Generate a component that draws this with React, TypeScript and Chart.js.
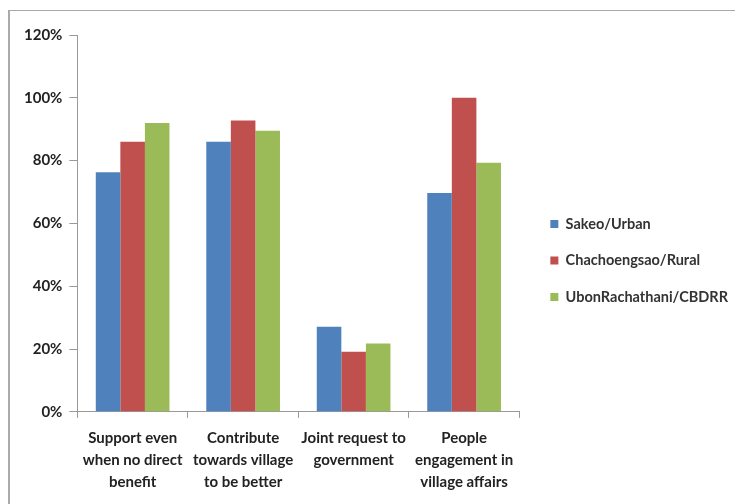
import React, { useEffect, useRef } from "react";
import { Chart, registerables } from "chart.js";

Chart.register(...registerables);

const categories: string[][] = [
  ["Support even", "when no direct", "benefit"],
  ["Contribute", "towards village", "to be better"],
  ["Joint request to", "government"],
  ["People", "engagement in", "village affairs"],
];
const seriesNames = ["Sakeo/Urban", "Chachoengsao/Rural", "UbonRachathani/CBDRR"];
const sakeoUrban = [76.3, 86, 27.1, 69.7];
const chachoengsaoRural = [86, 92.8, 19.1, 100];
const ubonCbdrr = [92, 89.5, 21.8, 79.3];
const yTicks = [0, 20, 40, 60, 80, 100, 120];
const colors = ["#4F81BD", "#C0504D", "#9BBB59"];

const legendShift = {
  id: "legendShift",
  afterLayout(chart: any) {
    const lg = chart.legend;
    if (lg) {
      lg.left += 9;
      lg.right += 9;
      lg.top -= 8;
      lg.bottom -= 8;
    }
  },
};

export default function App() {
  const ref = useRef<HTMLCanvasElement | null>(null);
  useEffect(() => {
    if (!ref.current) return;
    const family = "Lato, 'Open Sans', sans-serif";
    const chart = new Chart(ref.current, {
      type: "bar",
      data: {
        labels: categories,
        datasets: [sakeoUrban, chachoengsaoRural, ubonCbdrr].map((d, i) => ({
          label: seriesNames[i],
          data: d,
          backgroundColor: colors[i],
          borderWidth: 0,
          categoryPercentage: 0.667,
          barPercentage: 1,
        })),
      },
      plugins: [legendShift],
      options: {
        animation: false,
        responsive: false,
        maintainAspectRatio: false,
        layout: { padding: { left: 17, top: 35, bottom: 2, right: 6 } },
        plugins: {
          tooltip: { enabled: false },
          legend: {
            position: "right",
            maxWidth: 215,
            labels: {
              boxWidth: 8,
              boxHeight: 8,
              padding: 22,
              color: "#333",
              font: { family, size: 14.5, weight: "bold" },
            },
          },
        },
        scales: {
          x: {
            grid: {
              display: true,
              drawOnChartArea: false,
              drawTicks: true,
              tickLength: 6,
              color: "#999",
              offset: true,
            },
            border: { display: true, color: "#999" },
            ticks: {
              color: "#222",
              font: { family, size: 15, weight: "bold", lineHeight: 1.47 },
              padding: 9,
              maxRotation: 0,
              autoSkip: false,
            },
          },
          y: {
            min: 0,
            max: 120,
            afterBuildTicks: (axis: any) => {
              axis.ticks = yTicks.map((v) => ({ value: v }));
            },
            grid: {
              display: true,
              drawOnChartArea: false,
              drawTicks: true,
              tickLength: 8,
              color: "#999",
            },
            border: { display: true, color: "#999" },
            ticks: {
              color: "#222",
              font: { family, size: 15, weight: "bold" },
              padding: 7,
              callback: (v: any) => v + "%",
            },
          },
        },
      },
    });
    return () => chart.destroy();
  }, []);
  return (
    <div style={{ position: "fixed", left: 0, top: 0, width: 735, height: 504, background: "#fff" }}>
      <div
        style={{
          position: "absolute",
          left: 8,
          top: 10,
          right: 0,
          bottom: 0,
          borderLeft: "2px solid #aaa",
          borderTop: "1px solid #aaa",
        }}
      />
      <canvas ref={ref} width={735} height={504} style={{ position: "absolute", left: 0, top: 0 }} />
    </div>
  );
}
